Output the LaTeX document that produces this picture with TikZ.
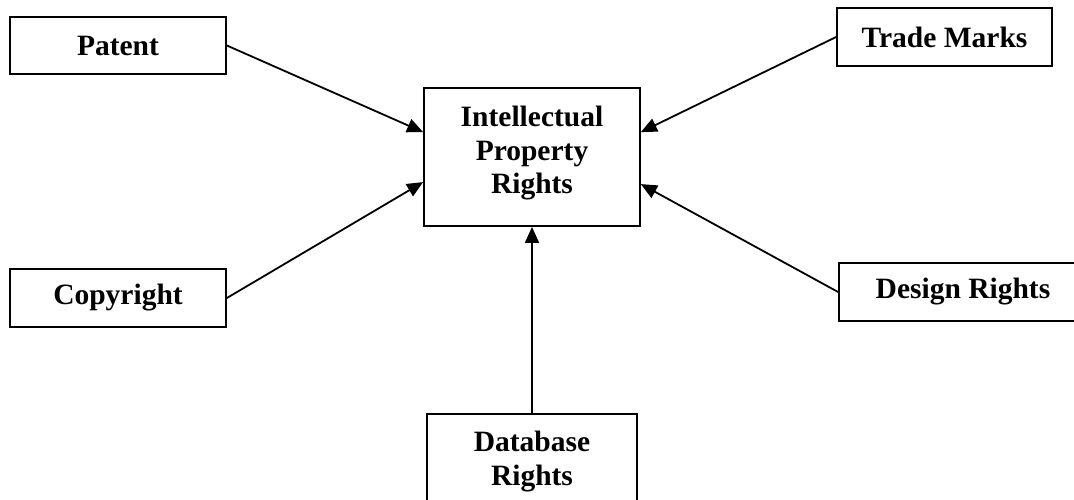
\documentclass[tikz,border=0pt]{standalone}
\usepackage{fontspec}
\setmainfont{Liberation Serif}
\usetikzlibrary{arrows.meta,calc}
\begin{document}
\begin{tikzpicture}[x=1pt,y=1pt,
  box/.style={draw=black, line width=1.8pt, fill=white, inner sep=0pt},
  lbl/.style={font=\fontsize{29.5}{33.5}\selectfont\bfseries, align=center, inner sep=0pt},
  conn/.style={line width=1.8pt, -{Triangle[length=16pt,width=14pt]}}]
\useasboundingbox (0,0) rectangle (1074,-499);
\clip (0,0) rectangle (1074,-499);
\fill[white] (0,0) rectangle (1074,-499);
% boxes
\node[box, minimum width=216pt, minimum height=57pt] (pat) at (118,-45.5) {};
\node[box, minimum width=216pt, minimum height=58pt] (cop) at (118,-298) {};
\node[box, minimum width=216pt, minimum height=138pt] (ipr) at (532,-157) {};
\node[box, minimum width=215pt, minimum height=58pt] (tm) at (944.5,-37) {};
\node[box, minimum width=248pt, minimum height=58pt] (dr) at (963,-292) {};
\node[box, minimum width=210pt, minimum height=140pt] (db) at (532,-484) {};
% texts
\node[lbl] (patT) at (pat.center) {Patent};
\node[lbl] (copT) at (cop.center) {Copyright};
\node[lbl] (tmT) at (tm.center) {Trade Marks};
\node[lbl] (drT) at (dr.center) {Design Rights};
\node[lbl, anchor=north] (iprT) at (532,-106) {Intellectual\\Property\\Rights};
\node[lbl, anchor=north] (dbT) at (532,-431) {Database\\Rights};
% connector ends
\coordinate (e1) at ($(ipr.north west)+(0,-45)$);
\coordinate (e2) at ($(ipr.north west)+(0,-95)$);
\coordinate (e3) at ($(ipr.north east)+(0,-45)$);
\coordinate (e4) at ($(ipr.north east)+(0,-97)$);
% connectors
\draw[conn] (pat.east) -- (e1);
\draw[conn] (cop.east) -- (e2);
\draw[conn] (tm.west) -- (e3);
\draw[conn] (dr.west) -- (e4);
\draw[conn] (db.north) -- (ipr.south);
\end{tikzpicture}
\end{document}
